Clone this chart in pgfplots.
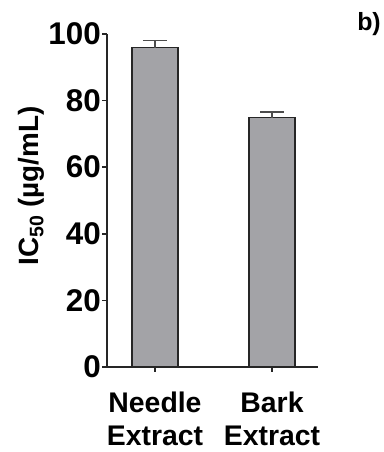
\documentclass[border=0pt]{standalone}
\usepackage{fontspec}
\setmainfont{Liberation Sans}
\usepackage{pgfplots}
\pgfplotsset{compat=1.18}
\definecolor{barfill}{HTML}{A3A3A7}
\begin{document}
\begin{tikzpicture}[x=1bp,y=1bp]
\path[use as bounding box] (0,0) rectangle (383,452);
\begin{axis}[
  at={(107bp,85bp)}, anchor=south west,
  scale only axis, width=211bp, height=333bp,
  xmin=-0.41, xmax=1.393, ymin=0, ymax=100,
  axis x line*=bottom, axis y line*=left,
  axis line style={line width=1.6bp, black!85},
  ytick={0,20,...,100}, xtick={0,1},
  xticklabels={{Needle\\Extract},{Bark\\Extract}},
  xticklabel style={align=center, font=\fontsize{28.5}{33}\selectfont\bfseries, inner sep=0bp, yshift=-20bp},
  tick align=outside, major tick length=5bp,
  tick style={line width=1.5bp, black!85},
  /pgf/number format/assume math mode=true,
  yticklabel style={font=\fontsize{31.5}{34}\selectfont\bfseries, inner sep=1bp},
  ylabel={IC\textsubscript{50} (µg/mL)},
  ylabel style={at={(axis description cs:-0.36,0.544)}, anchor=center, font=\fontsize{28}{30}\selectfont\bfseries},
  clip=false,
]
\addplot[ybar, bar width=46bp, fill=barfill, draw=black!85, line width=1.5bp,
  error bars/.cd, y dir=plus, y explicit,
  error bar style={line width=1.5bp, black!70},
  error mark options={rotate=90, mark size=12bp, line width=1.5bp, black!70}]
  coordinates {(0,95.9) +- (0,2.1) (1,74.9) +- (0,1.7)};
\end{axis}
\node[font=\fontsize{25}{25}\selectfont\bfseries] at (369,428) {b)};
\end{tikzpicture}
\end{document}
